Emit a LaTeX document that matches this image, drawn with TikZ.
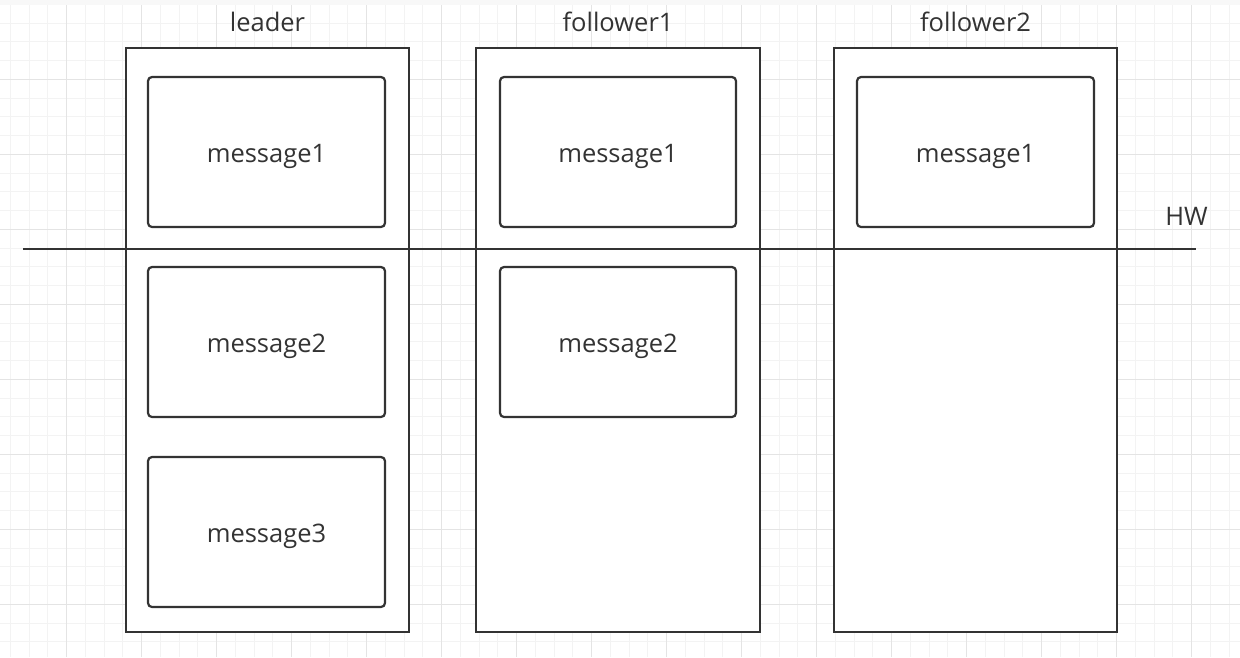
\documentclass[tikz,border=0pt]{standalone}
\usepackage{fontspec}
\setmainfont{Open Sans}
\usepackage{tikz}
\usetikzlibrary{positioning}
\definecolor{ink}{HTML}{333333}
\definecolor{gridminor}{HTML}{F3F3F3}
\definecolor{gridmajor}{HTML}{E4E4E4}
\tikzset{part/.style = {draw=ink, line width=2.2, fill=white, minimum width=283, minimum height=584, inner sep=0}}
\tikzset{msg/.style = {draw=ink, line width=2.2, fill=white, rounded corners=4, minimum width=237, minimum height=150, inner sep=0, text=ink, text height=21, text depth=0, font=\fontsize{25.5}{30}\selectfont}}
\tikzset{title/.style = {text=ink, inner sep=0, anchor=base, font=\fontsize{25.5}{30}\selectfont}}

\begin{document}
\begin{tikzpicture}[x=1pt,y=-1pt]
        \useasboundingbox (0,0) rectangle (1240,657);
        \fill [white] (0,0) rectangle (1240,657);
        \foreach \x in {0,...,66} \draw [gridminor,line width=1] (10.4+18.75*\x,0) -- (10.4+18.75*\x,657);
        \foreach \y in {0,...,34} \draw [gridminor,line width=1] (0,4.3+18.75*\y) -- (1240,4.3+18.75*\y);
        \foreach \x in {0,...,15} \draw [gridmajor,line width=1] (66.7+75*\x,0) -- (66.7+75*\x,657);
        \foreach \y in {0,...,8} \draw [gridmajor,line width=1] (0,4.3+75*\y) -- (1240,4.3+75*\y);
        \fill [gridminor!80!gray!20] (0,0) rectangle (1240,4.5);
        \node [part] (leader) at (267.5,340) {};
        \node [part, minimum width=284] (follower1) at (618,340) {};
        \node [part] (follower2) at (975.5,340) {};
        \node [title] (tleader) at ([yshift=15]leader.north) {leader};
        \node [title] (tfollower1) at ([yshift=15]follower1.north) {follower1};
        \node [title] (tfollower2) at ([yshift=15]follower2.north) {follower2};
        \node [msg] (l1) at (266.5,152) {message1};
        \node [msg] (l2) at (266.5,342) {message2};
        \node [msg] (l3) at (266.5,532) {message3};
        \node [msg, minimum width=236] (f11) at (618,152) {message1};
        \node [msg, minimum width=236] (f12) at (618,342) {message2};
        \node [msg] (f21) at (975.5,152) {message1};
        \coordinate (hwL) at (23,249);
        \coordinate (hwR) at (1196,249);
        \draw [ink, line width=2.2] (hwL) -- (hwR);
        \node [title, anchor=base east] (hw) at (1208,225) {HW};
    \end{tikzpicture}
\end{document}
